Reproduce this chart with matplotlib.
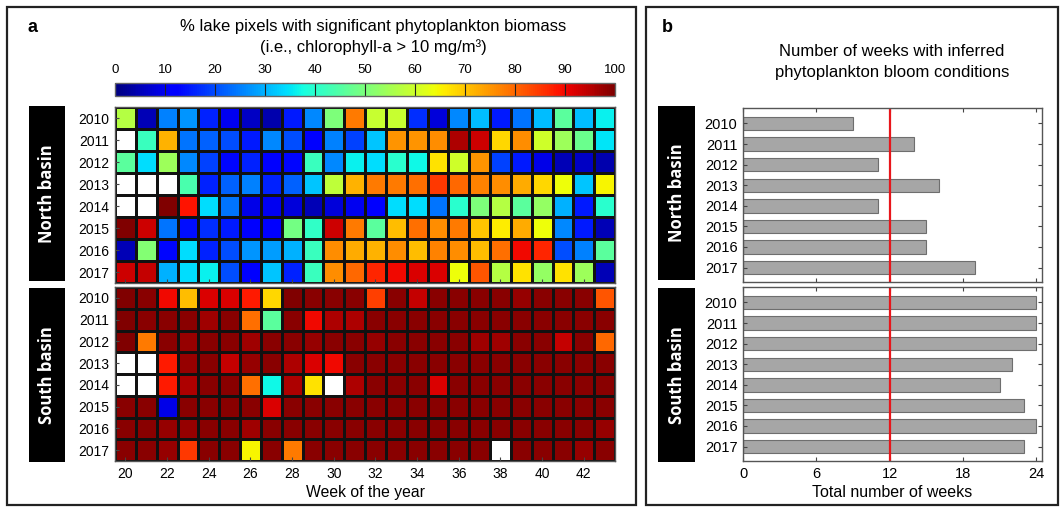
import numpy as np
import matplotlib
matplotlib.use("Agg")
import matplotlib.pyplot as plt
from matplotlib.patches import Rectangle

plt.rcParams['font.family'] = ['Liberation Sans', 'DejaVu Sans']

W, H = 1061, 509

years = ['2010', '2011', '2012', '2013', '2014', '2015', '2016', '2017']
weeks = list(range(20, 44))
nan = np.nan

north = [
    [57, 5, 25, 27, 16, 10, 6, 4, 15, 26, 50, 78, 59, 59, 17, 8, 26, 31, 15, 24, 31, 46, 31, 36],
    [nan, 42, 72, 24, 22, 20, 15, 26, 20, 11, 25, 19, 32, 75, 75, 76, 96, 93, 68, 76, 60, 54, 48, 35],
    [46, 34, 54, 26, 19, 13, 16, 12, 13, 42, 26, 36, 34, 40, 37, 67, 60, 75, 19, 15, 9, 5, 6, 4],
    [nan, nan, nan, 44, 16, 22, 25, 16, 22, 32, 58, 72, 78, 78, 79, 85, 80, 77, 76, 73, 68, 64, 32, 65],
    [nan, nan, 100, 89, 34, 24, 9, 10, 8, 5, 8, 10, 11, 34, 34, 24, 40, 50, 57, 46, 53, 30, 15, 40],
    [100, 93, 24, 14, 17, 15, 11, 12, 49, 41, 93, 78, 46, 71, 79, 76, 78, 70, 66, 73, 64, 26, 15, 5],
    [5, 51, 13, 34, 16, 20, 27, 28, 30, 42, 76, 73, 72, 76, 71, 77, 76, 71, 79, 90, 87, 20, 25, 46],
    [93, 94, 30, 34, 36, 20, 11, 32, 16, 42, 76, 80, 87, 90, 92, 92, 64, 82, 57, 67, 53, 67, 54, 5],
]

south = [
    [100, 99, 90, 71, 92, 92, 88, 68, 100, 99, 99, 99, 84, 99, 94, 99, 99, 99, 99, 98, 99, 99, 99, 82],
    [100, 99, 99, 99, 97, 99, 79, 46, 99, 90, 96, 96, 99, 99, 99, 99, 99, 99, 99, 99, 99, 99, 99, 99],
    [100, 78, 99, 98, 99, 99, 97, 99, 99, 98, 99, 99, 98, 99, 99, 99, 99, 97, 97, 99, 99, 94, 99, 80],
    [nan, nan, 88, 98, 99, 94, 98, 99, 96, 92, 90, 99, 99, 99, 99, 99, 99, 99, 99, 99, 99, 99, 99, 99],
    [nan, nan, 88, 96, 99, 99, 79, 37, 96, 67, nan, 96, 99, 99, 99, 92, 99, 99, 99, 99, 99, 99, 99, 99],
    [99, 99, 9, 99, 99, 99, 99, 92, 99, 99, 99, 99, 99, 99, 99, 99, 99, 99, 99, 99, 99, 99, 99, 99],
    [99, 99, 98, 98, 99, 99, 97, 99, 99, 99, 99, 99, 99, 99, 99, 99, 99, 99, 99, 99, 99, 99, 99, 98],
    [99, 99, 98, 85, 99, 99, 65, 99, 78, 99, 99, 99, 99, 99, 99, 99, 99, 99, nan, 99, 99, 99, 98, 99],
]

north_weeks = [9, 14, 11, 16, 11, 15, 15, 19]
south_weeks = [24, 24, 24, 22, 21, 23, 24, 23]
threshold = 12

cbar_ticks = [0, 10, 20, 30, 40, 50, 60, 70, 80, 90, 100]
week_ticks = list(range(20, 44, 2))
bar_ticks = [0, 6, 12, 18, 24]


def rect(x0, y0, x1, y1):
    return [x0 / W, 1 - y1 / H, (x1 - x0) / W, (y1 - y0) / H]


fig = plt.figure(figsize=(W / 100, H / 100), dpi=100)

# panel frames
for (x0, y0, x1, y1) in [(7, 7, 636, 505), (646, 7, 1058, 505)]:
    fig.add_artist(Rectangle((x0 / W, 1 - y1 / H), (x1 - x0) / W, (y1 - y0) / H,
                             transform=fig.transFigure, fill=False, lw=1.6, ec='#222222'))

cmap = plt.get_cmap('jet')
xedges = np.arange(weeks[0] - 0.5, weeks[-1] + 1.0, 1.0)
yedges = np.arange(len(years) + 1) - 0.5

hm_axes = []
for data, (y0, y1) in [(north, (107, 283)), (south, (287, 461))]:
    ax = fig.add_axes(rect(115, y0, 615, y1))
    arr = np.ma.masked_invalid(np.array(data, dtype=float))
    mesh = ax.pcolormesh(xedges, yedges, arr, cmap=cmap, vmin=0, vmax=100,
                         edgecolors='#111111', linewidth=0.85)
    ax.set_ylim(len(years) - 0.5, -0.5)
    ax.set_xlim(xedges[0], xedges[-1])
    ax.set_yticks(range(len(years)))
    ax.set_yticklabels(years, fontsize=10)
    ax.set_xticks(week_ticks)
    ax.tick_params(direction='in', length=3, width=0.8, color='#444444', pad=4)
    for s in ax.spines.values():
        s.set_color('#555555')
        s.set_linewidth(1.0)
    hm_axes.append(ax)

hm_axes[0].set_xticklabels([])
hm_axes[1].set_xticklabels([str(w) for w in week_ticks], fontsize=10)
hm_axes[1].set_xlabel('Week of the year', fontsize=11.3, labelpad=3)

# colorbar
cax = fig.add_axes(rect(115, 83, 615, 96))
cb = fig.colorbar(mesh, cax=cax, orientation='horizontal', ticklocation='top')
cb.set_ticks(cbar_ticks)
cb.ax.tick_params(labelsize=9.5, length=0, pad=5)
cb.outline.set_edgecolor('#666666')
cb.outline.set_linewidth(1.0)
for t in cbar_ticks[1:-1]:
    cax.axvline(t, color='#222222', lw=0.8)

fig.text(373 / W, 1 - 27 / H, '% lake pixels with significant phytoplankton biomass',
         ha='center', va='center', fontsize=12)
fig.text(373 / W, 1 - 47 / H, '(i.e., chlorophyll-a > 10 mg/m\u00b3)',
         ha='center', va='center', fontsize=12)
fig.text(32 / W, 1 - 28 / H, 'a', ha='center', va='center', fontsize=13, fontweight='bold')

# basin labels
def basin_box(x0, x1, y0, y1, label):
    fig.add_artist(Rectangle((x0 / W, 1 - y1 / H), (x1 - x0) / W, (y1 - y0) / H,
                             transform=fig.transFigure, fc='black', ec='none'))
    fig.text((x0 + x1) / 2 / W, 1 - (y0 + y1) / 2 / H, label, rotation=90,
             ha='center', va='center', color='white', fontsize=12,
             fontweight='bold', family=['Open Sans', 'DejaVu Sans'])

basin_box(29, 65, 106, 281, 'North basin')
basin_box(29, 65, 288, 462, 'South basin')
basin_box(658, 695, 106, 280, 'North basin')
basin_box(658, 695, 288, 462, 'South basin')

# panel b
bar_axes = []
for vals, (y0, y1) in [(north_weeks, (108, 282)), (south_weeks, (287, 461))]:
    ax = fig.add_axes(rect(743, y0, 1042, y1))
    ax.barh(range(len(years)), vals, height=0.65, color='#a6a6a6',
            edgecolor='#6e6e6e', linewidth=0.8)
    ax.axvline(threshold, color='#e8161b', lw=1.6)
    ax.set_xlim(0, 24.45)
    ax.set_ylim(len(years) - 0.3, -0.75)
    ax.set_yticks(range(len(years)))
    ax.set_yticklabels(years, fontsize=10.5)
    ax.set_xticks(bar_ticks)
    ax.tick_params(direction='in', length=3, width=0.8, color='#444444',
                   top=True, right=True, pad=4)
    for s in ax.spines.values():
        s.set_color('#555555')
        s.set_linewidth(1.0)
    bar_axes.append(ax)

bar_axes[0].set_xticklabels([])
bar_axes[1].set_xticklabels([str(t) for t in bar_ticks], fontsize=10.5)
bar_axes[1].set_xlabel('Total number of weeks', fontsize=11.5, labelpad=3)

fig.text(892 / W, 1 - 52 / H, 'Number of weeks with inferred',
         ha='center', va='center', fontsize=12)
fig.text(892 / W, 1 - 72 / H, 'phytoplankton bloom conditions',
         ha='center', va='center', fontsize=12)
fig.text(667 / W, 1 - 28 / H, 'b', ha='center', va='center', fontsize=13, fontweight='bold')

fig.savefig('out.png', dpi=100)
